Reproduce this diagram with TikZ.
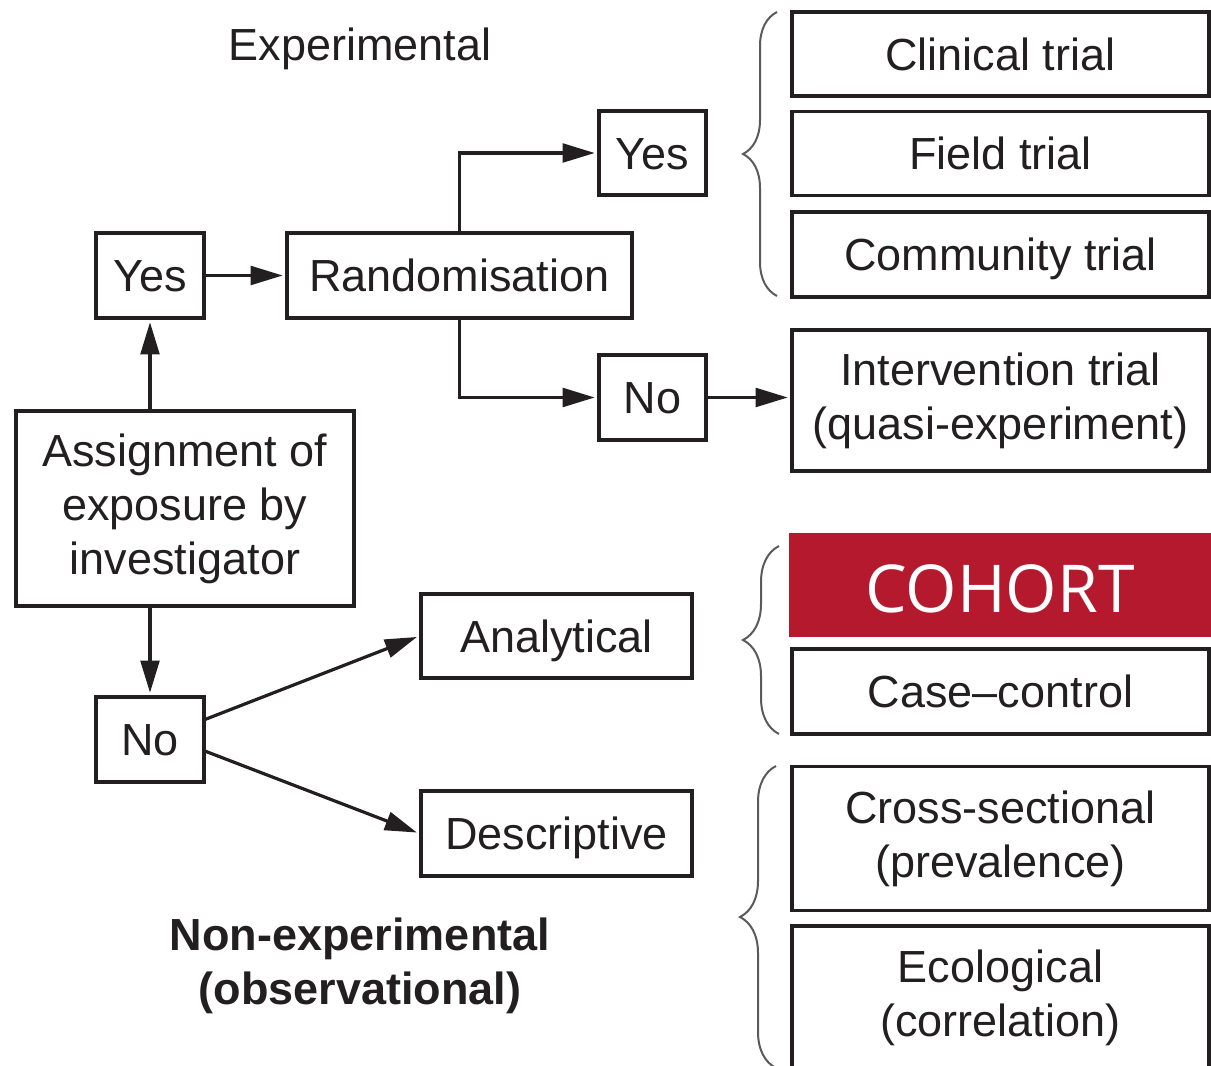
\documentclass[tikz,border=0pt]{standalone}
\usepackage{fontspec}
\setmainfont{Liberation Sans}
\newfontfamily\cohortfont{Open Sans}
\usepackage{tikz}
\usetikzlibrary{positioning,arrows.meta,decorations.pathreplacing}

\definecolor{cohortred}{RGB}{180,25,45}
\definecolor{inkgray}{RGB}{35,31,32}
\definecolor{bracegray}{RGB}{90,90,90}

\begin{document}
\begin{tikzpicture}[x=0.75pt,y=0.75pt,yscale=-1,xscale=1,
  every node/.style={font=\fontsize{33.75}{40.5}\selectfont, text=inkgray},
  box/.style={draw=inkgray, line width=2.4pt, inner sep=0pt, align=center},
  oneline/.style={text height=24.2pt, text depth=0pt},
  studybox/.style={box, minimum width=312.75pt},
  arr/.style={draw=inkgray, line width=2.4pt, shorten >=2pt, -{Triangle[length=24pt,width=14pt]}},
  curly/.style={draw=bracegray, line width=1.5pt, decorate, decoration={brace, amplitude=#1}}]
\useasboundingbox (0,0) rectangle (1211,1066);

% Text Node
\node [oneline] (exper) at (360,44) {Experimental};
% Text Node
\node [font=\fontsize{33.75}{40.5}\selectfont\bfseries, align=center] (nonexp) at (360,966) {Non-experimental\\(observational)};

%Shape: Rectangle
\node [box, minimum width=253.5pt, minimum height=146.25pt] (assign) at (185,508.5) {Assignment of\\exposure by\\investigator};
%Shape: Rectangle
\node [box, oneline, minimum width=81pt, minimum height=63.75pt] (yesL) at (150,275.5) {Yes};
%Shape: Rectangle
\node [box, oneline, minimum width=81pt, minimum height=63.75pt] (noL) at (150,739.5) {No};
%Shape: Rectangle
\node [box, oneline, minimum width=258.75pt, minimum height=63.75pt] (rand) at (459.5,275.5) {Randomisation};
%Shape: Rectangle
\node [box, oneline, minimum width=80.25pt, minimum height=63pt] (yesR) at (652.5,153) {Yes};
%Shape: Rectangle
\node [box, oneline, minimum width=80.25pt, minimum height=63.75pt] (noR) at (652.5,397.5) {No};
%Shape: Rectangle
\node [box, oneline, minimum width=203.25pt, minimum height=63pt] (analyt) at (556.5,636) {Analytical};
%Shape: Rectangle
\node [box, oneline, minimum width=203.25pt, minimum height=63.75pt] (descr) at (556.5,833.5) {Descriptive};

%Shape: Rectangle
\node [studybox, oneline, minimum height=63pt] (clin) at (1000.5,54) {Clinical trial};
%Shape: Rectangle
\node [studybox, oneline, minimum height=63pt] (field) at (1000.5,153.5) {Field trial};
%Shape: Rectangle
\node [studybox, oneline, minimum height=63.75pt] (comm) at (1000.5,254.5) {Community trial};
%Shape: Rectangle
\node [studybox, minimum height=105.75pt] (interv) at (1000.5,400.5) {Intervention trial\\(quasi-experiment)};
%Shape: Rectangle
\node [fill=cohortred, inner sep=0pt, minimum width=316.5pt, minimum height=78pt, text=white, font=\cohortfont\fontsize{49.5}{59}\selectfont, text height=42pt, text depth=0pt] (cohort) at (1000,584.5) {COHORT};
%Shape: Rectangle
\node [studybox, oneline, minimum height=63.75pt] (cc) at (1000.5,691.5) {Case--control};
%Shape: Rectangle
\node [studybox, minimum height=108pt] (cross) at (1000.5,838.5) {Cross-sectional\\(prevalence)};
%Shape: Rectangle
\node [studybox, minimum height=107.25pt] (eco) at (1000.5,997.5) {Ecological\\(correlation)};

%Straight Lines
\draw [arr] (yesL |- assign.north) -- (yesL.south);
\draw [arr] (yesL) -- (rand);
\draw [arr] (rand.north) |- (yesR);
\draw [arr] (rand.south) |- (noR);
\draw [arr] (noR.east) -- (noR.east -| interv.west);
\draw [arr] (noL |- assign.south) -- (noL.north);
\draw [arr] (noL.20) -- (analyt.west);
\draw [arr] (noL.-12) -- (descr.west);

%Braces
\draw [curly=25.5pt] (777,296) -- (777,12);
\draw [curly=27pt] (779,734) -- (779,546);
\draw [curly=27pt] (776,1068) -- (776,766);
\end{tikzpicture}
\end{document}
